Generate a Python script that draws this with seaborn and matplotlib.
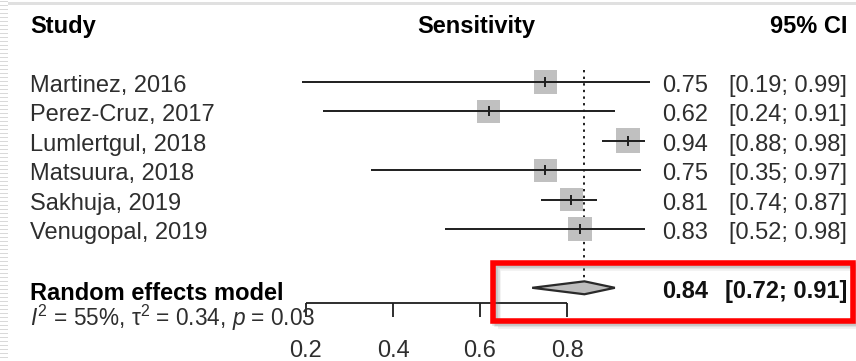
import numpy as np
import pandas as pd
import matplotlib
matplotlib.use("Agg")
import matplotlib.pyplot as plt
import matplotlib.patches as mpatches
import seaborn as sns

# ---------------- data ----------------
studies = ["Martinez, 2016", "Perez-Cruz, 2017", "Lumlertgul, 2018",
           "Matsuura, 2018", "Sakhuja, 2019", "Venugopal, 2019"]
sens = [0.75, 0.62, 0.94, 0.75, 0.81, 0.83]
ci_low = [0.19, 0.24, 0.88, 0.35, 0.74, 0.52]
ci_high = [0.99, 0.91, 0.98, 0.97, 0.87, 0.98]
weights = [16.0, 15.5, 18.5, 16.0, 16.2, 16.0]

pooled_label = "Random effects model"
pooled_est = 0.84
pooled_low = 0.72
pooled_high = 0.91
het_text = "$I^2$ = 55%, τ$^2$ = 0.34, $p$ = 0.03"

xticks = [0.2, 0.4, 0.6, 0.8]
xtick_labels = ["0.2", "0.4", "0.6", "0.8"]

header_study = "Study"
header_effect = "Sensitivity"
header_ci = "95% CI"

# ---------------- style ----------------
sns.set_theme(style="white")
plt.rcParams["font.family"] = ["Liberation Sans", "DejaVu Sans"]
plt.rcParams["mathtext.fontset"] = "custom"
plt.rcParams["mathtext.rm"] = "Liberation Sans"
plt.rcParams["mathtext.it"] = "Liberation Sans:italic"
plt.rcParams["mathtext.bf"] = "Liberation Sans:bold"

W, H = 856, 361
fig = plt.figure(figsize=(W / 100, H / 100), dpi=100)
ax = fig.add_axes([0, 0, 1, 1])
ax.set_axis_off()

# pixel -> data mapping (linear sensitivity scale, row index on y)
px_per_unit = 435.0
x0_px = 306.0  # position of 0.2
ax.set_xlim(0.2 - x0_px / px_per_unit, 0.2 + (W - x0_px) / px_per_unit)
row_px = 29.4
row0_px = 82.0
ax.set_ylim((H - row0_px) / row_px, -row0_px / row_px)

FS = 17
TXT = "#2e2e2e"
LINE = "#1e1e1e"
rows = np.arange(len(studies))

df = pd.DataFrame({"study": studies, "est": sens, "lo": ci_low,
                   "hi": ci_high, "w": weights, "row": rows})

# weight squares
sns.scatterplot(data=df, x="est", y="row", size="w", sizes=(272, 315),
                marker="s", color="#c0c0c0", edgecolor="none",
                legend=False, ax=ax, zorder=2)
# CI lines (drawn over the squares)
ax.hlines(df["row"], df["lo"], df["hi"], color=LINE, lw=1.4, zorder=3)
# estimate tick inside square
ax.scatter(df["est"], df["row"], marker="|", s=45, color=LINE,
           linewidths=1.4, zorder=4)

# pooled diamond
pr = 7.0
dh = 0.22
ax.fill([pooled_low, pooled_est, pooled_high, pooled_est],
        [pr, pr - dh, pr, pr + dh], facecolor="#bdbdbd",
        edgecolor="#2a2a2a", lw=1.6, zorder=3)
# dotted reference line at pooled estimate
ax.vlines(pooled_est, -0.42, pr - dh, color=LINE, lw=1.4,
          linestyles=(0, (1.2, 2.2)), zorder=1)

# x axis (only spanning ticks)
axis_y = 7.517
ax.hlines(axis_y, xticks[0], xticks[-1], color=LINE, lw=1.3)
ax.vlines(xticks, axis_y, axis_y + 0.47, color=LINE, lw=1.3)
for t, lab in zip(xticks, xtick_labels):
    ax.text(t, 9.35, lab, ha="center", va="baseline", fontsize=FS, color=TXT)

# text columns
x_study = 0.2 - (x0_px - 30) / px_per_unit
x_est = 0.2 + (708 - x0_px) / px_per_unit
x_ci = 0.2 + (847 - x0_px) / px_per_unit
x_head = 0.2 + (476.5 - x0_px) / px_per_unit
base_off = 0.34
head_row = -1.667

ax.text(x_study, head_row, header_study, fontsize=FS, fontweight="bold",
        color="black", va="baseline", ha="left")
ax.text(x_head, head_row, header_effect, fontsize=FS, fontweight="bold",
        color="black", va="baseline", ha="center")
ax.text(x_ci, head_row, header_ci, fontsize=FS, fontweight="bold",
        color="black", va="baseline", ha="right")

for r, s, e, lo, hi in zip(rows, studies, sens, ci_low, ci_high):
    ax.text(x_study, r + base_off, s, fontsize=FS, color=TXT,
            va="baseline", ha="left")
    ax.text(x_est, r + base_off, f"{e:.2f}", fontsize=FS, color=TXT,
            va="baseline", ha="right")
    ax.text(x_ci, r + base_off, f"[{lo:.2f}; {hi:.2f}]", fontsize=FS,
            color=TXT, va="baseline", ha="right")

ax.text(x_study, 7.415, pooled_label, fontsize=FS, fontweight="bold",
        color="black", va="baseline", ha="left")
ax.text(x_est, 7.35, f"{pooled_est:.2f}", fontsize=FS, fontweight="bold",
        color="#111111", va="baseline", ha="right")
ax.text(x_ci, 7.35, f"[{pooled_low:.2f}; {pooled_high:.2f}]", fontsize=FS,
        fontweight="bold", color="#111111", va="baseline", ha="right")
ax.text(x_study, 8.28, het_text, fontsize=16.3, color=TXT,
        va="baseline", ha="left")

# ---------------- slide decorations ----------------
def fx(px):
    return px / W

def fy(py):
    return 1 - py / H

# left striped margin
for yy in np.arange(1, H, 4):
    fig.add_artist(mpatches.Rectangle((0, fy(yy + 1.3)), fx(8), 1.3 / H,
                                      transform=fig.transFigure,
                                      facecolor="#d9d9d9", edgecolor="none"))
# top thin grey line
fig.add_artist(mpatches.Rectangle((fx(8), fy(5)), 1 - fx(8), 2.5 / H,
                                  transform=fig.transFigure,
                                  facecolor="#e0e0e0", edgecolor="none"))

# red highlight box with soft shadow (outline only)
for off, a in [(4.5, 0.10), (3.0, 0.16), (1.8, 0.20)]:
    sh = mpatches.Rectangle((fx(493.5 + off), fy(321 + off)),
                            fx(853 - 493.5), (321 - 263) / H,
                            transform=fig.transFigure, fill=False,
                            edgecolor="#707070", alpha=a, lw=4.0)
    fig.add_artist(sh)
rect = mpatches.Rectangle((fx(493.5), fy(321)), fx(853 - 493.5),
                          (321 - 263) / H, transform=fig.transFigure,
                          fill=False, edgecolor="#ff0000", lw=4.0)
fig.add_artist(rect)

fig.savefig("out.png", dpi=100)
